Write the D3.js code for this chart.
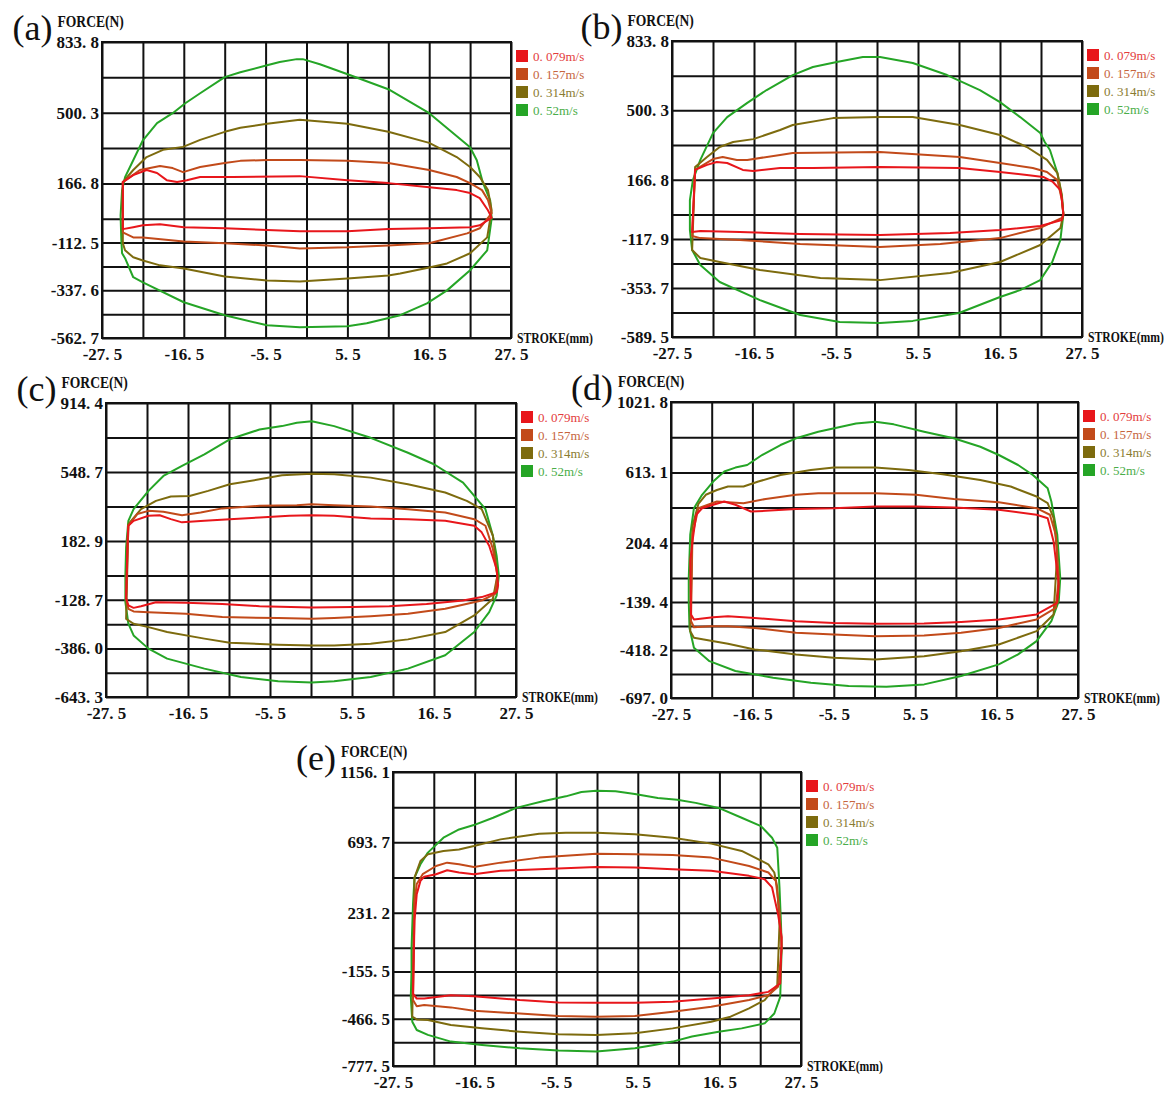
<!DOCTYPE html>
<html>
<head>
<meta charset="utf-8">
<script src="https://cdn.jsdelivr.net/npm/d3@7"></script>
<style>
  body { margin: 0; background: #fff; }
  text { font-family: "Liberation Serif", "Times New Roman", serif; }
</style>
</head>
<body>
<svg id="chart" width="1175" height="1095"></svg>
<script>
// ---- data -------------------------------------------------------------
const speeds = ["0.079m/s", "0.157m/s", "0.314m/s", "0.52m/s"];
const strokeTicks = [-27.5, -16.5, -5.5, 5.5, 16.5, 27.5];
const panelNames = ["(a)", "(b)", "(c)", "(d)", "(e)"];

// force tick labels, top to bottom, for each panel
const forceTicksA = [833.8, 500.3, 166.8, -112.5, -337.6, -562.7];
const forceTicksB = [833.8, 500.3, 166.8, -117.9, -353.7, -589.5];
const forceTicksC = [914.4, 548.7, 182.9, -128.7, -386.0, -643.3];
const forceTicksD = [1021.8, 613.1, 204.4, -139.4, -418.2, -697.0];
const forceTicksE = [1156.1, 693.7, 231.2, -155.5, -466.5, -777.5];

// closed loops [stroke mm, force N]: upper curve left->right, lower curve right->left
const a079 = [[-24.7,173],[-23.3,206],[-21.5,230],[-20.1,216],[-18.8,182],[-17.4,173],[-16.1,182],[-14.3,197],[-9.9,197],[-0.9,201],[5.5,182],[11.0,168],[16.5,149],[20.2,135],[22.0,121],[23.3,97],[24.4,40],[24.9,5],
  [23.3,-31],[22.0,-40],[16.5,-45],[11.0,-49],[5.5,-59],[-0.9,-59],[-11.0,-45],[-16.5,-40],[-19.7,-26],[-22.0,-31],[-23.3,-40],[-24.7,-49]];
const a157 = [[-24.7,173],[-22.4,230],[-19.7,249],[-18.0,239],[-16.6,220],[-14.3,244],[-11.0,263],[-8.9,273],[-5.3,277],[-0.9,277],[5.5,273],[11.0,263],[16.5,230],[20.2,197],[22.0,168],[23.6,135],[24.4,88],[24.9,26],
  [23.3,-45],[21.6,-69],[16.5,-116],[11.0,-126],[5.5,-135],[-0.9,-140],[-5.3,-126],[-11.0,-116],[-16.5,-107],[-22.0,-88],[-23.3,-88],[-24.7,-64]];
const a314 = [[-24.7,173],[-23.3,230],[-21.5,291],[-19.3,325],[-16.6,339],[-14.3,372],[-11.0,410],[-8.9,429],[-5.3,448],[-0.9,467],[5.5,448],[11.0,410],[16.5,358],[20.2,291],[22.0,244],[23.3,197],[24.4,135],[24.9,40],
  [24.3,-88],[22.0,-163],[18.9,-211],[16.5,-230],[12.6,-258],[11.0,-268],[5.5,-282],[-0.9,-296],[-5.3,-291],[-11.0,-273],[-16.5,-235],[-19.7,-220],[-22.0,-197],[-23.3,-182],[-24.4,-149],[-24.7,-116]];
const a520 = [[-25.0,15],[-24.8,135],[-24.4,196],[-23.3,276],[-22.0,370],[-20.1,451],[-18.0,498],[-16.3,545],[-14.3,592],[-11.0,668],[-8.9,691],[-5.3,724],[-3.6,739],[-1.3,753],[-0.5,753],[1.8,729],[5.9,677],[11.0,611],[16.5,498],[22.0,337],[22.9,276],[23.7,172],[24.7,87],[24.9,2],
  [24.3,-149],[22.0,-243],[18.9,-338],[16.2,-399],[12.6,-455],[8.1,-493],[5.5,-507],[-0.9,-512],[-5.3,-503],[-11.0,-455],[-16.5,-394],[-22.0,-300],[-23.3,-276],[-24.4,-186],[-24.8,-163],[-24.9,-101]];

const b079 = [[-24.4,214],[-22.8,238],[-21.5,252],[-20.1,247],[-18.0,214],[-16.6,209],[-13.0,223],[-8.6,223],[0.4,228],[11.1,223],[16.5,204],[20.1,190],[22.3,180],[23.6,156],[24.6,117],[24.8,69],[25.0,0],
  [24.8,-27],[21.9,-56],[16.5,-75],[9.8,-89],[0.4,-99],[-10.3,-94],[-18.4,-85],[-23.7,-80],[-24.8,-85]];
const b157 = [[-24.4,214],[-22.0,266],[-20.7,276],[-18.8,262],[-17.4,262],[-13.0,286],[-11.3,295],[0.4,300],[11.1,276],[16.5,247],[20.9,223],[22.8,204],[24.2,165],[24.8,69],[25.0,0],
  [24.8,-17],[21.9,-65],[16.5,-114],[8.5,-142],[0.4,-157],[-10.3,-142],[-18.4,-123],[-23.7,-114],[-24.8,-104]];
const b314 = [[-24.4,228],[-22.8,276],[-21.1,324],[-19.3,348],[-16.6,362],[-13.0,406],[-11.3,430],[-5.9,463],[0.4,468],[4.8,468],[11.1,430],[16.5,382],[20.1,324],[22.8,262],[24.2,199],[24.8,93],[25.0,0],
  [24.6,-65],[21.9,-147],[16.5,-229],[9.8,-282],[0.4,-316],[-7.6,-306],[-15.7,-267],[-21.1,-229],[-23.7,-210],[-24.8,-171]];
const b520 = [[-25.1,0],[-25.1,69],[-24.7,165],[-23.7,262],[-22.0,391],[-20.1,468],[-17.4,536],[-14.8,598],[-11.3,670],[-8.6,709],[-5.4,733],[-1.9,757],[0.4,757],[4.8,728],[9.4,670],[13.8,598],[16.5,540],[19.2,468],[21.9,391],[22.5,348],[23.2,310],[24.2,199],[24.8,84],[25.0,0],
  [24.6,-123],[23.5,-229],[21.9,-316],[19.2,-364],[16.5,-397],[11.0,-474],[4.8,-512],[0.4,-522],[-5.0,-517],[-10.3,-484],[-15.7,-412],[-21.1,-325],[-23.7,-243],[-24.8,-171],[-25.1,-75]];

const c079 = [[-24.6,200],[-24.5,264],[-23.8,290],[-21.8,317],[-20.3,320],[-18.8,299],[-17.3,282],[-14.3,290],[-10.9,299],[-6.9,308],[-2.9,317],[0.1,320],[3.1,317],[8.0,303],[13.0,299],[18.0,290],[21.9,264],[22.9,229],[23.9,158],[24.9,35],[25.1,-50],
  [24.9,-88],[22.9,-114],[20.4,-132],[15.5,-150],[10.5,-162],[5.5,-167],[0.1,-169],[-6.9,-162],[-11.9,-150],[-16.8,-144],[-20.8,-141],[-22.8,-162],[-23.8,-171],[-24.5,-158],[-24.8,-120]];
const c157 = [[-24.5,264],[-23.3,326],[-21.8,343],[-19.8,338],[-17.3,320],[-14.8,334],[-11.9,356],[-6.9,370],[-1.9,373],[0.1,378],[3.1,373],[8.0,366],[13.0,352],[18.0,334],[21.9,299],[23.4,264],[24.4,141],[25.0,0],
  [24.7,-97],[22.9,-132],[18.0,-176],[13.0,-202],[8.0,-215],[3.1,-225],[0.1,-229],[-4.4,-225],[-11.9,-220],[-16.8,-202],[-21.8,-194],[-23.8,-190],[-24.5,-176],[-24.8,-120]];
const c314 = [[-24.5,273],[-22.8,352],[-20.8,396],[-18.8,419],[-16.3,422],[-13.8,449],[-10.9,484],[-6.9,510],[-3.9,532],[0.1,540],[3.1,537],[8.0,519],[13.0,484],[18.0,440],[20.9,396],[22.9,352],[24.4,211],[25.0,0],
  [24.4,-123],[21.9,-211],[18.0,-299],[13.0,-338],[8.0,-361],[3.1,-370],[0.1,-370],[-4.4,-366],[-10.9,-356],[-14.3,-334],[-19.3,-299],[-21.8,-273],[-23.8,-255],[-24.8,-229]];
const c520 = [[-24.9,0],[-24.8,150],[-24.5,290],[-23.8,352],[-21.8,449],[-19.8,528],[-17.3,581],[-14.3,642],[-10.9,722],[-6.9,774],[-3.9,792],[-1.9,810],[0.1,818],[3.1,792],[8.0,730],[13.0,651],[16.5,590],[20.4,493],[21.9,422],[23.4,352],[24.4,211],[24.9,106],[25.2,0],
  [24.9,-106],[23.9,-194],[21.9,-299],[18.0,-422],[13.0,-493],[8.0,-537],[3.1,-560],[0.1,-567],[-4.4,-560],[-9.4,-537],[-14.3,-493],[-19.3,-440],[-21.8,-387],[-23.8,-317],[-24.5,-255],[-24.9,-141]];

const d079 = [[-24.9,100],[-24.6,212],[-24.1,367],[-23.3,405],[-21.8,425],[-20.3,444],[-18.8,425],[-16.7,386],[-14.7,390],[-10.6,401],[-5.5,405],[0.1,415],[5.6,415],[10.7,409],[16.8,396],[21.9,367],[23.4,347],[24.2,212],[24.9,-39],
  [24.7,-145],[21.9,-212],[16.8,-241],[11.7,-255],[6.7,-264],[0.1,-266],[-5.5,-261],[-10.6,-251],[-16.2,-232],[-19.8,-222],[-21.8,-228],[-24.4,-241],[-24.8,-212]];
const d157 = [[-24.6,251],[-23.8,405],[-21.3,444],[-17.7,434],[-14.7,459],[-10.6,483],[-7.6,492],[0.1,492],[5.6,483],[10.7,459],[16.8,440],[21.9,405],[23.7,367],[24.5,251],[24.9,0],
  [24.5,-174],[21.9,-241],[16.8,-290],[11.7,-318],[6.7,-334],[0.1,-338],[-5.5,-328],[-10.6,-318],[-16.2,-290],[-19.8,-280],[-22.3,-280],[-24.4,-286],[-24.8,-250]];
const d314 = [[-24.6,300],[-23.8,430],[-22.8,483],[-21.3,511],[-19.8,531],[-17.7,531],[-15.7,560],[-12.7,598],[-8.6,627],[-5.5,641],[0.1,641],[4.6,627],[9.2,602],[14.3,569],[18.4,531],[21.9,473],[23.4,434],[24.2,347],[24.7,150],
  [24.2,-212],[21.9,-309],[16.8,-386],[11.7,-425],[6.7,-454],[0.1,-473],[-5.5,-463],[-10.6,-444],[-16.2,-415],[-19.8,-382],[-22.3,-363],[-24.4,-347],[-24.9,-309]];
const d520 = [[-25.1,0],[-24.9,251],[-24.4,405],[-23.3,483],[-21.8,560],[-20.3,618],[-18.8,641],[-17.2,656],[-15.2,714],[-12.7,772],[-10.6,811],[-7.6,849],[-4.5,878],[-2.5,897],[0.1,907],[2.6,892],[6.7,849],[10.7,811],[14.3,762],[16.8,714],[19.4,656],[21.4,598],[23.4,521],[23.9,444],[24.7,251],[25.1,0],
  [24.9,-135],[23.9,-251],[21.9,-367],[19.4,-444],[16.8,-502],[11.7,-569],[6.7,-618],[1.6,-631],[-3.5,-627],[-8.6,-608],[-13.7,-579],[-18.8,-540],[-22.3,-483],[-24.4,-405],[-25.0,-290],[-25.1,-135]];

const e079 = [[-24.6,179],[-24.3,353],[-23.8,440],[-23.3,467],[-21.7,484],[-20.2,510],[-18.6,495],[-16.6,484],[-13.0,506],[-7.8,517],[-0.1,532],[5.1,528],[10.2,517],[15.4,506],[20.5,473],[22.6,451],[23.6,397],[24.4,222],[24.9,70],
  [24.7,-235],[23.1,-290],[20.5,-312],[15.4,-334],[10.2,-355],[5.1,-362],[-0.1,-362],[-5.2,-360],[-10.4,-344],[-16.6,-318],[-19.7,-312],[-23.3,-334],[-24.3,-334],[-24.8,-301]];
const e157 = [[-24.6,300],[-24.3,419],[-23.5,484],[-21.7,538],[-20.2,560],[-18.6,549],[-16.6,532],[-13.0,560],[-7.8,593],[-2.7,610],[-0.1,619],[5.1,615],[10.2,610],[15.4,593],[20.5,538],[23.1,495],[24.1,440],[24.6,244],[24.9,0],
  [24.4,-257],[23.1,-312],[20.5,-344],[15.4,-388],[10.2,-421],[5.1,-449],[-0.1,-453],[-5.2,-449],[-10.4,-432],[-16.6,-414],[-19.7,-392],[-23.3,-377],[-24.3,-384],[-24.8,-344]];
const e314 = [[-24.6,462],[-23.8,571],[-22.8,615],[-20.7,637],[-18.6,647],[-16.6,669],[-13.0,713],[-7.8,750],[-4.2,756],[-0.1,756],[5.1,746],[10.2,724],[15.4,685],[19.5,637],[23.1,549],[23.9,495],[24.3,397],[24.6,150],
  [24.3,-246],[22.6,-344],[20.5,-399],[18.0,-453],[15.4,-486],[10.2,-530],[5.1,-562],[-0.1,-573],[-5.2,-569],[-10.4,-552],[-15.5,-530],[-19.7,-508],[-22.8,-475],[-24.3,-471],[-24.9,-453]];
const e520 = [[-25.0,0],[-24.8,288],[-24.6,462],[-23.8,549],[-22.8,626],[-20.7,724],[-18.6,778],[-16.6,807],[-14.0,855],[-10.9,920],[-7.3,964],[-4.2,996],[-2.1,1025],[-0.1,1033],[2.5,1029],[5.1,1012],[8.2,985],[10.8,974],[13.3,953],[16.4,920],[19.5,855],[22.1,800],[23.6,724],[24.3,658],[24.6,397],[24.8,157],[24.9,0],
  [24.8,-148],[24.7,-323],[23.9,-432],[22.6,-497],[19.5,-530],[16.4,-552],[12.8,-584],[10.2,-617],[7.7,-639],[5.1,-661],[-0.1,-682],[-5.2,-676],[-10.4,-661],[-15.5,-639],[-19.7,-617],[-22.8,-573],[-24.3,-541],[-24.9,-486],[-25.1,-323],[-25.0,-148]];

// ---- layout -----------------------------------------------------------
const lineColors = ["#e8161b", "#c24a1a", "#7d6b0e", "#25a526"];
const textColors = ["#e33b3b", "#c6643c", "#8a7b30", "#4aad48"];

const panels = [
  { box: [102, 511, 42, 338],  ticks: forceTicksA, loops: [a079, a157, a314, a520] },
  { box: [672, 1082, 41, 337], ticks: forceTicksB, loops: [b079, b157, b314, b520] },
  { box: [106, 516, 403, 697], ticks: forceTicksC, loops: [c079, c157, c314, c520] },
  { box: [671, 1078, 402, 698], ticks: forceTicksD, loops: [d079, d157, d314, d520] },
  { box: [393, 801, 772, 1066], ticks: forceTicksE, loops: [e079, e157, e314, e520] }
];

const svg = d3.select("#chart");
const fmt = v => v.toFixed(1).replace(".", ". ");

panels.forEach(function(p, pi) {
  const [x0, x1, y0, y1] = p.box;
  const top = p.ticks[0], bottom = p.ticks[5];
  const W = x1 - x0, H = y1 - y0;

  const x = d3.scaleLinear().domain([-27.5, 27.5]).range([x0, x1]);
  const y = d3.scaleLinear().domain([bottom, top]).range([y1, y0]);

  const g = svg.append("g");

  // vertical grid + stroke labels
  const strokeGrid = d3.range(11).map(i => -27.5 + i * 5.5);
  const xAxis = d3.axisBottom(x)
    .tickValues(strokeGrid)
    .tickSize(-H)
    .tickSizeOuter(0)
    .tickPadding(10)
    .tickFormat((v, i) => i % 2 === 0 ? fmt(strokeTicks[i / 2]) : "");
  const gx = g.append("g").attr("transform", "translate(0," + y1 + ")").call(xAxis);

  // horizontal grid + force labels (5 steps above zero, 5 below)
  const forceGrid = d3.range(5, -1, -1).map(k => top * k / 5)
    .concat(d3.range(1, 6).map(k => bottom * k / 5));
  const yAxis = d3.axisLeft(y)
    .tickValues(forceGrid)
    .tickSize(-W)
    .tickSizeOuter(0)
    .tickPadding(3)
    .tickFormat((v, i) => i % 2 === 0 ? fmt(p.ticks[i / 2]) : "");
  const gy = g.append("g").attr("transform", "translate(" + x0 + ",0)").call(yAxis);

  [gx, gy].forEach(function(a) {
    a.select(".domain").remove();
    a.selectAll(".tick line").attr("stroke", "#111").attr("stroke-width", 2);
    a.selectAll(".tick text")
      .attr("fill", "#111")
      .style("font-family", "'Liberation Serif', serif")
      .style("font-size", "17px")
      .style("font-weight", "bold");
  });

  g.append("rect")
    .attr("x", x0).attr("y", y0).attr("width", W).attr("height", H)
    .attr("fill", "none").attr("stroke", "#111").attr("stroke-width", 2);

  // loops, fastest drawn first
  const line = d3.line()
    .x(d => x(d[0]))
    .y(d => y(d[1]))
    .curve(d3.curveLinearClosed);
  for (let s = 3; s >= 0; s--) {
    g.append("path")
      .datum(p.loops[s])
      .attr("d", line)
      .attr("fill", "none")
      .attr("stroke", lineColors[s])
      .attr("stroke-width", 2)
      .attr("stroke-linejoin", "round");
  }

  // legend
  speeds.forEach(function(sp, i) {
    const ly = y0 + 8 + i * 18;
    g.append("rect")
      .attr("x", x1 + 5).attr("y", ly)
      .attr("width", 12).attr("height", 12)
      .attr("fill", lineColors[i]);
    g.append("text")
      .attr("x", x1 + 22).attr("y", ly + 10.5)
      .attr("fill", textColors[i])
      .style("font-size", "13px")
      .text(sp.replace(".", ". "));
  });

  // axis titles and panel letter (titles squeezed horizontally like the narrow original face)
  const topLabel = gy.selectAll(".tick text").filter((d, i) => i === 0).node();
  const labelLeft = x0 - 3 - topLabel.getComputedTextLength();

  g.append("text")
    .attr("transform", "translate(" + (labelLeft + 1) + "," + (y0 - 15) + ") scale(0.85,1)")
    .attr("fill", "#111")
    .style("font-size", "16px").style("font-weight", "bold")
    .text("FORCE(N)");

  g.append("text")
    .attr("transform", "translate(" + (x1 + 6) + "," + (y1 + 5) + ") scale(0.78,1)")
    .attr("fill", "#111")
    .style("font-size", "15px").style("font-weight", "bold")
    .text("STROKE(mm)");

  g.append("text")
    .attr("x", labelLeft - 4).attr("y", y0 - 2)
    .attr("text-anchor", "end")
    .attr("fill", "#111")
    .style("font-size", "36px")
    .text(panelNames[pi]);
});
</script>
</body>
</html>
